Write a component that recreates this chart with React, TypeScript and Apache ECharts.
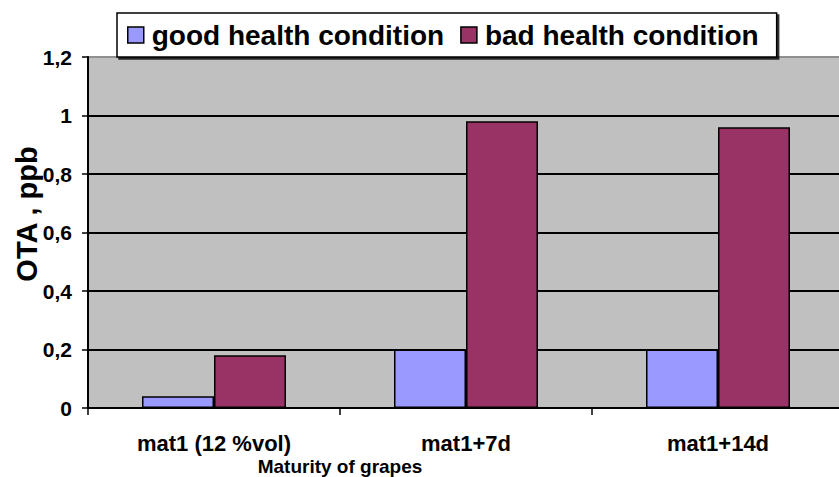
import React, { useEffect, useRef } from "react";
import * as echarts from "echarts";

const categories = ["mat1 (12 %vol)", "mat1+7d", "mat1+14d"];
const goodHealth = [0.04, 0.2, 0.2];
const badHealth = [0.18, 0.98, 0.96];
const seriesNames = ["good health condition", "bad health condition"];
const yTitle = "OTA , ppb";
const xTitle = "Maturity of grapes";

const FONT = "'Liberation Sans', Arial, sans-serif";

export default function App() {
  const ref = useRef<HTMLDivElement>(null);
  useEffect(() => {
    if (!ref.current) return;
    document.body.style.margin = "0";
    document.body.style.overflow = "hidden";
    const chart = echarts.init(ref.current, null, { renderer: "svg" });
    chart.setOption({
      animation: false,
      backgroundColor: "#ffffff",
      textStyle: { fontFamily: FONT },
      grid: {
        left: 88,
        top: 57,
        width: 756,
        height: 351,
        backgroundColor: "#C0C0C0",
        show: true,
        borderWidth: 0,
        containLabel: false,
        outerBoundsMode: "none",
      },
      legend: {
        data: seriesNames,
        left: 117,
        top: 13,
        padding: [8, 18, 8, 10],
        itemWidth: 16,
        itemHeight: 16,
        itemGap: 16,
        backgroundColor: "#ffffff",
        borderColor: "#000000",
        borderWidth: 1.5,
        shadowColor: "rgba(0,0,0,0.8)",
        shadowOffsetX: 2,
        shadowOffsetY: 2,
        shadowBlur: 0,
        icon: "rect",
        itemStyle: { borderColor: "#000", borderWidth: 1.5 },
        textStyle: { fontFamily: FONT, fontWeight: "bold", fontSize: 28, color: "#000", padding: [0, 0, 0, 3] },
      },
      xAxis: {
        type: "category",
        data: categories,
        axisLine: { lineStyle: { color: "#000", width: 2 } },
        axisTick: { show: true, length: 7, inside: false, lineStyle: { color: "#000", width: 1.5 } },
        axisLabel: { fontFamily: FONT, fontWeight: "bold", fontSize: 22, color: "#000", margin: 24 },
      },
      yAxis: {
        type: "value",
        min: 0,
        max: 1.2,
        interval: 0.2,
        axisLine: { show: true, lineStyle: { color: "#000", width: 2 } },
        axisTick: { show: true, length: 6, lineStyle: { color: "#000", width: 1.5 } },
        axisLabel: {
          fontFamily: FONT,
          fontWeight: "bold",
          fontSize: 21,
          color: "#000",
          margin: 16,
          formatter: (v: number) => String(Math.round(v * 10) / 10).replace(".", ","),
        },
        splitLine: {
          show: true,
          lineStyle: { color: ["#000", "#000", "#000", "#000", "#000", "#000", "#909090"], width: 2 },
        },
      },
      graphic: [
        {
          type: "text",
          x: 27,
          y: 214,
          rotation: Math.PI / 2,
          style: {
            text: yTitle,
            fontFamily: FONT,
            fontWeight: "bold",
            fontSize: 29,
            fill: "#000",
            align: "center",
            verticalAlign: "middle",
          },
        },
        {
          type: "text",
          x: 340,
          y: 466,
          style: {
            text: xTitle,
            fontFamily: FONT,
            fontWeight: "bold",
            fontSize: 19,
            fill: "#000",
            align: "center",
            verticalAlign: "middle",
          },
        },
      ],
      series: [
        {
          name: seriesNames[0],
          type: "bar",
          data: goodHealth,
          barWidth: 72,
          barGap: "0%",
          itemStyle: { color: "#9999FF", borderColor: "#000", borderWidth: 1.5 },
        },
        {
          name: seriesNames[1],
          type: "bar",
          data: badHealth,
          barWidth: 72,
          barGap: "0%",
          itemStyle: { color: "#993366", borderColor: "#000", borderWidth: 1.5 },
        },
      ],
    });
    return () => chart.dispose();
  }, []);
  return <div ref={ref} style={{ width: 839, height: 477, overflow: "hidden" }} />;
}
